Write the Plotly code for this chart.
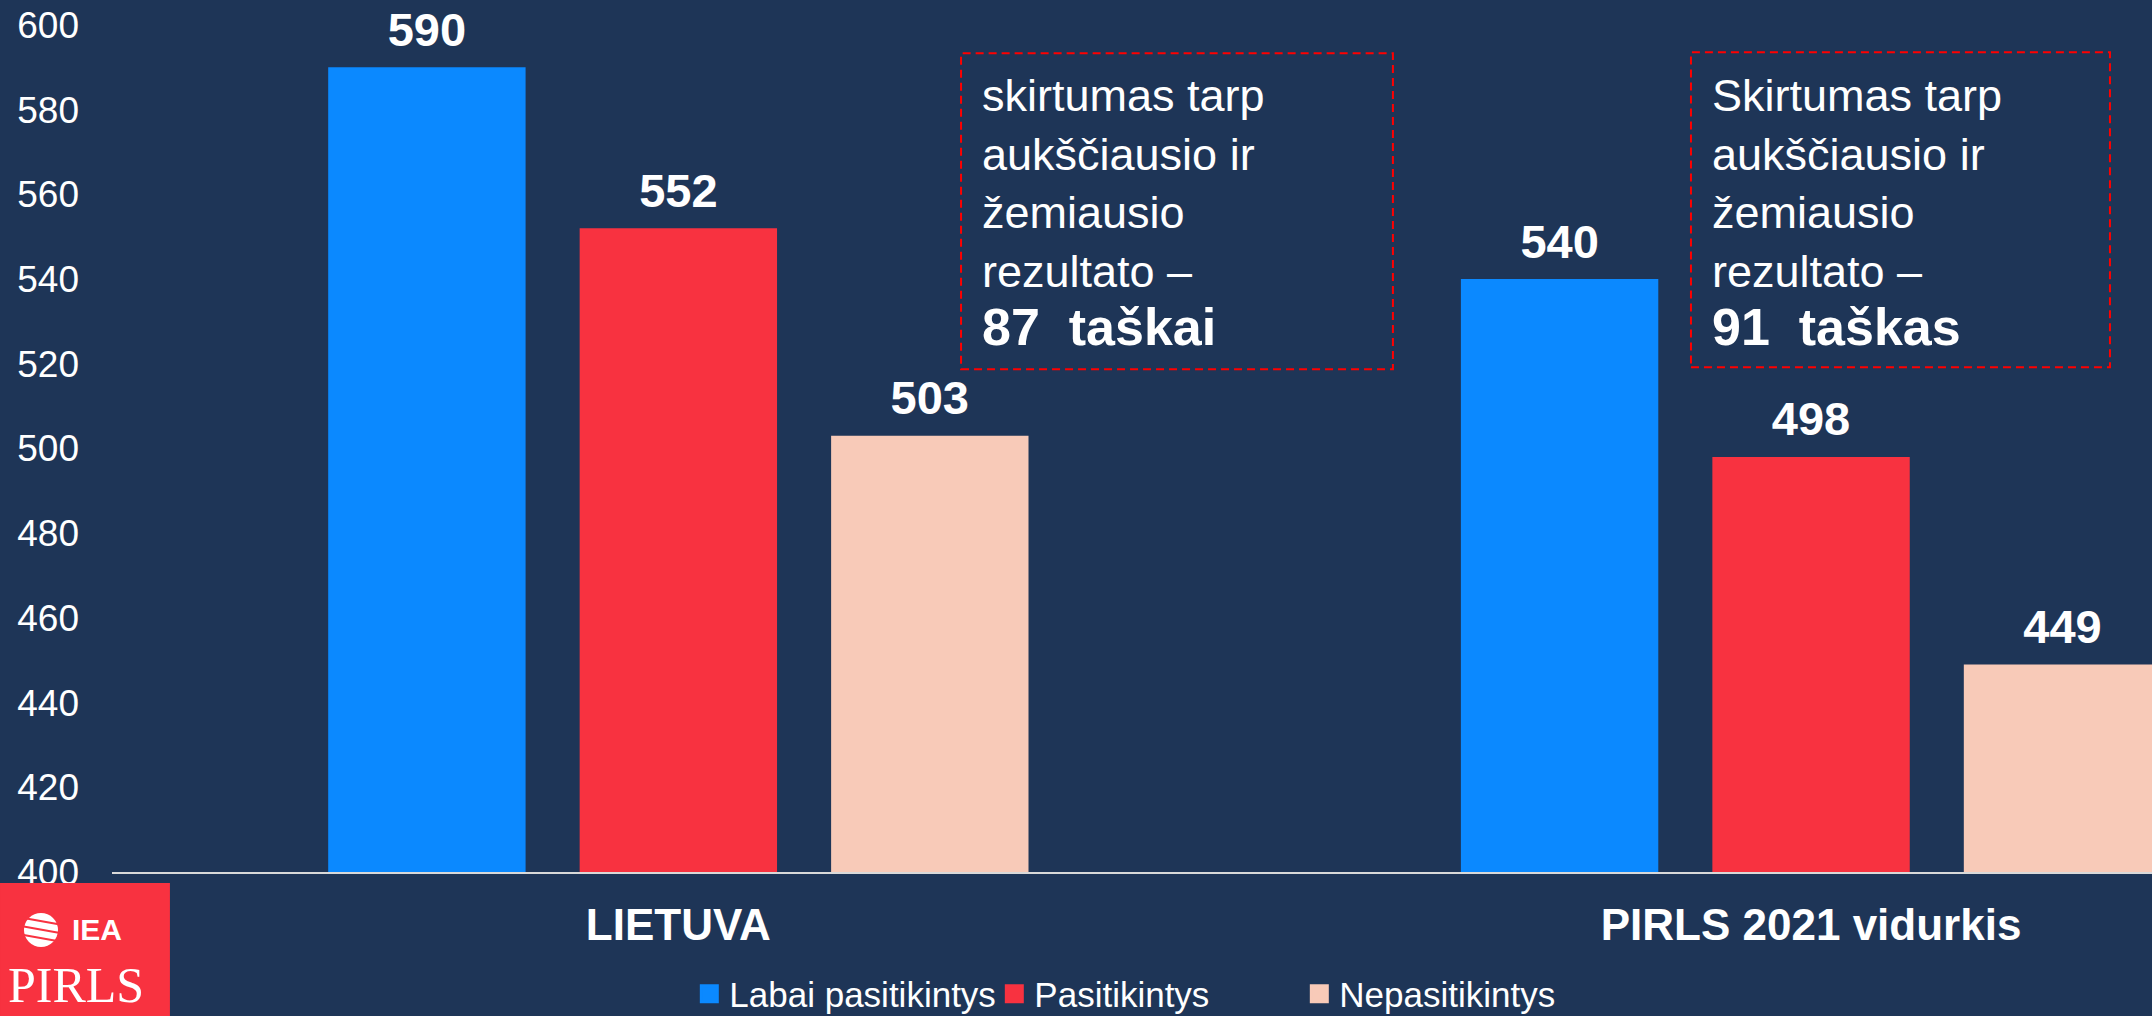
import plotly.graph_objects as go

# ---- data ----
categories = ["LIETUVA", "PIRLS 2021 vidurkis"]
series_names = ["Labai pasitikintys", "Pasitikintys", "Nepasitikintys"]
labai_pasitikintys = [590, 540]
pasitikintys = [552, 498]
nepasitikintys = [503, 449]
y_ticks = [400, 420, 440, 460, 480, 500, 520, 540, 560, 580, 600]

series_values = [labai_pasitikintys, pasitikintys, nepasitikintys]
colors = ["#0B89FF", "#F83240", "#F8CAB8"]

BG = "#1E3557"
FONT = "Arial, Liberation Sans, sans-serif"
GAP = 0.334

fig = go.Figure()
for i, (name, vals) in enumerate(zip(series_names, series_values)):
    fig.add_trace(go.Bar(
        x=categories, y=vals, name=name,
        marker=dict(color=colors[i], line=dict(width=0)),
        offsetgroup=str(i), alignmentgroup="a",
        showlegend=False, hoverinfo="x+y+name",
    ))
for i, (name, vals) in enumerate(zip(series_names, series_values)):
    fig.add_trace(go.Scatter(
        x=categories, y=vals, mode="markers+text",
        text=[f"<b>{v}</b>" for v in vals],
        textposition="top center",
        textfont=dict(size=47, color="white", family=FONT),
        marker=dict(size=14, opacity=0),
        offsetgroup=str(i), alignmentgroup="a",
        showlegend=False, hoverinfo="skip",
        cliponaxis=False,
    ))
# legend entries (square swatches)
for i, name in enumerate(series_names):
    fig.add_trace(go.Scatter(
        x=[None], y=[None], mode="markers", name=name,
        marker=dict(symbol="square", size=16, color=colors[i],
                    line=dict(color=colors[i], width=3)),
        offsetgroup=str(i), alignmentgroup="a", showlegend=True,
    ))

# annotation boxes (paper coordinates)
boxes = [
    dict(x0=0.4162, x1=0.6279, y0=0.5936, y1=0.9665, tx=0.426,
         lines=["skirtumas tarp", "aukščiausio ir", "žemiausio", "rezultato –"],
         bold="87\u00a0 taškai"),
    dict(x0=0.774, x1=0.9794, y0=0.5959, y1=0.9677, tx=0.7838,
         lines=["Skirtumas tarp", "aukščiausio ir", "žemiausio", "rezultato –"],
         bold="91\u00a0 taškas"),
]
shapes = []
annotations = []
for b in boxes:
    shapes.append(dict(type="rect", xref="paper", yref="paper",
                       x0=b["x0"], x1=b["x1"], y0=b["y0"], y1=b["y1"],
                       line=dict(color="#FF0000", width=2, dash="8px,5px"),
                       fillcolor="rgba(0,0,0,0)"))
    txt = "<br>".join(b["lines"]) + "<br><b><span style='font-size:52px'>" + b["bold"] + "</span></b>"
    annotations.append(dict(xref="paper", yref="paper", x=b["tx"], y=0.948,
                            xanchor="left", yanchor="top", align="left",
                            showarrow=False, text=txt, borderpad=0,
                            font=dict(size=45, color="white", family=FONT)))

# logo block
shapes.append(dict(type="rect", xref="paper", yref="paper",
                   x0=-0.0549, x1=0.0284, y0=-0.1699, y1=-0.01298,
                   fillcolor="#F83240", line=dict(width=0), layer="above"))
shapes.append(dict(type="circle", xref="paper", yref="paper",
                   x0=-0.04314, x1=-0.02647, y0=-0.0885, y1=-0.04838,
                   fillcolor="white", line=dict(width=0), layer="above"))
for yy in [-0.058, -0.068, -0.078]:
    shapes.append(dict(type="line", xref="paper", yref="paper",
                       x0=-0.0440, x1=-0.0255, y0=yy + 0.004, y1=yy - 0.004,
                       line=dict(color="#F83240", width=2), layer="above"))
annotations.append(dict(xref="paper", yref="paper", x=-0.00735, y=-0.0684,
                        xanchor="center", yanchor="middle", showarrow=False,
                        text="<b>IEA</b>", font=dict(size=30, color="white", family=FONT)))
annotations.append(dict(xref="paper", yref="paper", x=-0.01765, y=-0.1334,
                        xanchor="center", yanchor="middle", showarrow=False,
                        text="PIRLS", font=dict(size=50, color="white",
                                                family="Liberation Serif, Times New Roman, serif")))

fig.update_layout(
    width=2152, height=1016,
    margin=dict(l=112, r=0, t=25, b=144, pad=0, autoexpand=False),
    paper_bgcolor=BG, plot_bgcolor=BG,
    barmode="group", bargap=GAP, bargroupgap=0.215,
    scattermode="group", scattergap=GAP,
    font=dict(family=FONT, color="white"),
    showlegend=True,
    legend=dict(orientation="h", x=0.283, xanchor="left", y=-0.144, yanchor="middle",
                font=dict(size=35, color="white", family=FONT),
                entrywidth=260, entrywidthmode="pixels",
                bgcolor="rgba(0,0,0,0)", traceorder="normal", itemclick=False),
    shapes=shapes, annotations=annotations,
    xaxis=dict(type="category", range=[-0.5, 1.301], showline=True,
               linecolor="#D9D9D9", linewidth=2, showgrid=False, zeroline=False,
               ticks="", ticklabelstandoff=13,
               tickfont=dict(size=44, color="white", family=FONT, weight="bold")),
    yaxis=dict(range=[400, 600], tickvals=y_ticks, showgrid=False, zeroline=False,
               showline=False, ticks="", ticklabelstandoff=32,
               tickfont=dict(size=37, color="white", family=FONT)),
)

fig.write_html("out.html", config={"displayModeBar": False},
               post_script="document.body.style.margin='0';")
